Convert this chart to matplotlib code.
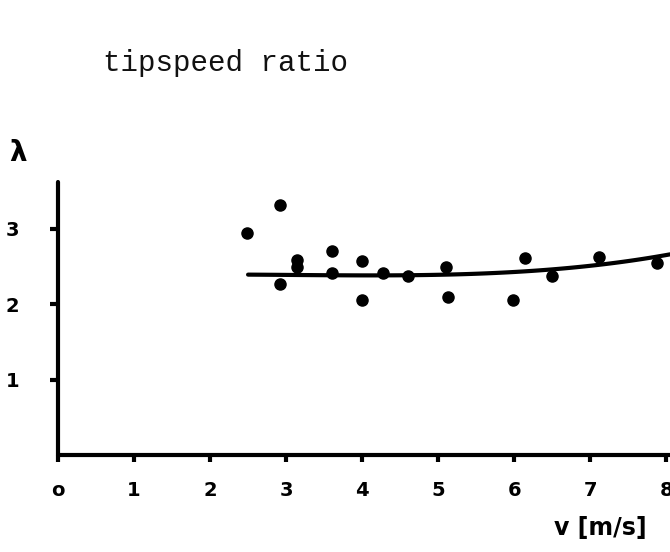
import numpy as np
import matplotlib
matplotlib.use("Agg")
import matplotlib.pyplot as plt

# measured points: wind speed v [m/s] and tip speed ratio lambda
v_meas = [2.48, 2.92, 2.92, 3.15, 3.15, 3.61, 3.61, 4.00, 4.00, 4.28, 4.61,
          5.11, 5.13, 5.98, 6.14, 6.50, 7.12, 7.88]
lam_meas = [2.94, 3.32, 2.27, 2.58, 2.49, 2.70, 2.41, 2.57, 2.06, 2.41, 2.38,
            2.49, 2.09, 2.06, 2.61, 2.37, 2.63, 2.55]

# hand drawn trend line
v_curve = [2.50, 3.00, 4.00, 4.76, 5.64, 6.47, 7.18, 8.05]
lam_curve = [2.39, 2.39, 2.385, 2.38, 2.41, 2.46, 2.53, 2.66]

x_ticks = [0, 1, 2, 3, 4, 5, 6, 7, 8]
x_labels = ["o", "1", "2", "3", "4", "5", "6", "7", "8"]
y_ticks = [1, 2, 3]
y_labels = ["1", "2", "3"]

W, H = 670, 552
fig = plt.figure(figsize=(W / 100, H / 100), dpi=100)
# axes placed so that 0/0 sits where the hand drawn axes cross
ax = fig.add_axes([58 / W, (H - 455) / H, (W - 58) / W, (455 - 182) / H])
ax.set_xlim(0, 8.05)
ax.set_ylim(0, 3.62)

# smooth the trend line with a low order fit
coef = np.polyfit(v_curve, lam_curve, 3)
vv = np.linspace(v_curve[0], v_curve[-1], 100)
ax.plot(vv, np.polyval(coef, vv), color="black", lw=3, solid_capstyle="round",
        clip_on=False)
ax.plot(v_meas, lam_meas, "o", color="black", ms=8, clip_on=False)

for side in ["top", "right"]:
    ax.spines[side].set_visible(False)
for side in ["left", "bottom"]:
    ax.spines[side].set_linewidth(3)
    ax.spines[side].set_capstyle("round")

bold = dict(fontsize=14, fontweight="bold", family="DejaVu Sans")
ax.set_xticks(x_ticks)
ax.set_xticklabels(x_labels, **bold)
ax.set_yticks(y_ticks)
ax.set_yticklabels(y_labels, **bold)
ax.tick_params(axis="x", direction="out", length=5, width=3, pad=14)
ax.tick_params(axis="y", direction="out", length=6, width=3, pad=22)

fig.text(18 / W, 1 - 153 / H, "λ", fontsize=20, fontweight="bold",
         ha="center", va="center")
fig.text(103 / W, 1 - 63 / H, "tipspeed ratio", fontsize=21,
         family="Liberation Mono", color="#111111", ha="left", va="center")
fig.text(600 / W, 1 - 528 / H, "v [m/s]", fontsize=17, fontweight="bold",
         ha="center", va="center")

fig.savefig("out.png", dpi=100)
